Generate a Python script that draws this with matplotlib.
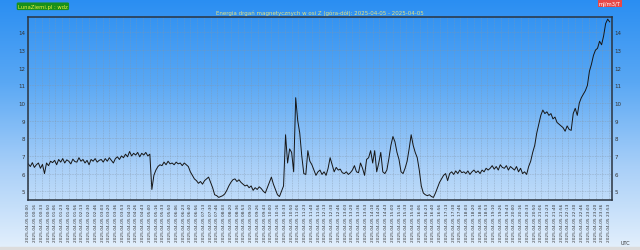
import matplotlib
import numpy as np
import pandas as pd

matplotlib.use("Agg")
import matplotlib.pyplot as plt
from matplotlib.colors import LinearSegmentedColormap


TITLE = "Energia drgań magnetycznych w osi Z (góra-dół): 2025-04-05 - 2025-04-05"
SITE_LABEL = "LunaZiemi.pl : wdz"
UNIT_LABEL = "mJ/m3/T"

# one sample every 5 minutes, hour per row
SAMPLE_MINUTES = 5
ENERGY = [
    6.55, 6.40, 6.62, 6.35, 6.50, 6.60, 6.30, 6.52, 6.00, 6.60, 6.45, 6.70,
    6.62, 6.75, 6.50, 6.80, 6.65, 6.85, 6.60, 6.78, 6.70, 6.55, 6.82, 6.68,
    6.65, 6.90, 6.70, 6.80, 6.60, 6.75, 6.50, 6.80, 6.70, 6.85, 6.65, 6.75,
    6.80, 6.65, 6.85, 6.70, 6.90, 6.75, 6.60, 6.85, 6.95, 6.80, 7.00, 6.90,
    7.10, 6.95, 7.25, 7.00, 7.15, 7.05, 7.20, 6.95, 7.15, 7.05, 7.20, 7.00,
    7.10, 5.10, 5.90, 6.20, 6.40, 6.50, 6.45, 6.65, 6.50, 6.70, 6.55, 6.60,
    6.50, 6.65, 6.55, 6.60, 6.45, 6.60, 6.50, 6.40, 6.10, 5.90, 5.70, 5.60,
    5.45, 5.55, 5.40, 5.60, 5.70, 5.80, 5.50, 5.20, 4.80, 4.75, 4.65, 4.70,
    4.75, 4.85, 5.05, 5.30, 5.50, 5.65, 5.70, 5.55, 5.65, 5.50, 5.40, 5.30,
    5.35, 5.20, 5.30, 5.05, 5.20, 5.10, 5.25, 5.15, 5.00, 4.90, 5.20, 5.50,
    5.80, 5.40, 5.10, 4.80, 4.70, 5.00, 5.30, 8.20, 6.60, 7.40, 7.20, 6.10,
    10.30, 9.00, 8.30, 7.00, 6.00, 5.95, 7.30, 6.70, 6.50, 6.20, 5.90, 6.10,
    6.20, 5.95, 6.10, 5.90, 6.30, 6.90, 6.50, 6.10, 6.35, 6.20, 6.25, 6.05,
    6.00, 6.10, 5.95, 6.05, 6.20, 6.45, 6.10, 6.05, 6.60, 6.30, 5.90, 6.80,
    6.90, 7.30, 6.60, 7.30, 6.10, 6.60, 7.20, 6.10, 6.00, 6.20, 6.85, 7.60,
    8.10, 7.80, 7.20, 6.80, 6.10, 6.00, 6.30, 6.70, 7.40, 8.20, 7.60, 7.20,
    6.90, 6.20, 5.30, 4.90, 4.80, 4.75, 4.80, 4.70, 4.65, 4.90, 5.20, 5.50,
    5.70, 5.90, 6.00, 5.60, 6.00, 6.10, 5.95, 6.15, 6.00, 6.20, 6.05, 6.10,
    6.00, 6.15, 5.95, 6.10, 6.20, 6.05, 6.15, 6.00, 6.20, 6.10, 6.30, 6.20,
    6.30, 6.45, 6.25, 6.40, 6.20, 6.50, 6.35, 6.30, 6.45, 6.20, 6.40, 6.30,
    6.20, 6.40, 6.10, 6.30, 6.00, 6.10, 5.95, 6.40, 6.70, 7.20, 7.60, 8.30,
    8.80, 9.30, 9.60, 9.40, 9.50, 9.30, 9.40, 9.10, 9.20, 8.90, 8.80, 8.70,
    8.60, 8.40, 8.70, 8.50, 8.45, 9.40, 9.70, 9.30, 10.00, 10.30, 10.50, 10.70,
    11.00, 11.80, 12.20, 12.70, 13.00, 13.10, 13.50, 13.30, 13.80, 14.50, 14.75, 14.60,
]

DAY_START = pd.Timestamp("2025-04-05 00:00")
# x labels every 1000 seconds across the day
TICK_TIMES = pd.date_range(DAY_START, periods=87, freq="1000s")
TICK_LABELS = [t.strftime("%Y-%m-%d %H:%M") for t in TICK_TIMES]
Y_TICKS = list(range(5, 15))


def draw_background(fig):
    """Vertical blue to pale gradient behind the whole figure."""
    bg = fig.add_axes([0, 0, 1, 1], zorder=-10)
    cmap = LinearSegmentedColormap.from_list(
        "sky", ["#2a8ef2", "#5aa8f4", "#a8cff8", "#e4f0fc"]
    )
    bg.imshow(np.linspace(0, 1, 256).reshape(-1, 1), aspect="auto",
              cmap=cmap, extent=[0, 1, 0, 1])
    bg.axhspan(0, 0.012, color="#dcdcdc")
    bg.set_xlim(0, 1)
    bg.set_ylim(0, 1)
    bg.axis("off")


def main():
    fig = plt.figure(figsize=(6.4, 2.51), dpi=100)
    draw_background(fig)

    ax = fig.add_axes([0.0442, 0.199, 0.9116, 0.729])
    ax.set_facecolor("none")

    times = DAY_START + pd.to_timedelta(np.arange(len(ENERGY)) * SAMPLE_MINUTES, unit="min")
    ax.plot(times, ENERGY, color="#161616", lw=0.7)

    ax.set_xlim(DAY_START, DAY_START + pd.Timedelta(minutes=1440))
    ax.set_ylim(4.5, 14.87)
    ax.set_xticks(TICK_TIMES)
    ax.set_xticklabels(TICK_LABELS, rotation=90, fontsize=3.1, color="#333333")
    ax.set_yticks(Y_TICKS)
    ax.set_yticklabels([str(v) for v in Y_TICKS], fontsize=4, color="#333333")
    ax.tick_params(axis="both", length=0, pad=2)
    ax.tick_params(axis="y", right=True, labelright=True)

    ax.grid(True, color="#8496a8", lw=0.4, ls=(0, (1.2, 1.8)))
    for spine in ax.spines.values():
        spine.set_color("#2a3440")
        spine.set_linewidth(1.1)

    fig.text(0.5, 0.948, TITLE, ha="center", va="center",
             fontsize=4, color="#e6e27a")
    fig.text(0.067, 0.971, SITE_LABEL, ha="center", va="center", fontsize=3.8,
             color="#f0f040",
             bbox=dict(boxstyle="round,pad=0.25", fc="#18901c", ec="none"))
    fig.text(0.953, 0.981, UNIT_LABEL, ha="center", va="center", fontsize=3.8,
             color="white",
             bbox=dict(boxstyle="square,pad=0.2", fc="#e84848", ec="none"))
    fig.text(0.977, 0.03, "UTC", ha="center", va="center",
             fontsize=3.5, color="#333333")

    fig.savefig("out.png", dpi=100)
    plt.close(fig)


if __name__ == "__main__":
    main()
